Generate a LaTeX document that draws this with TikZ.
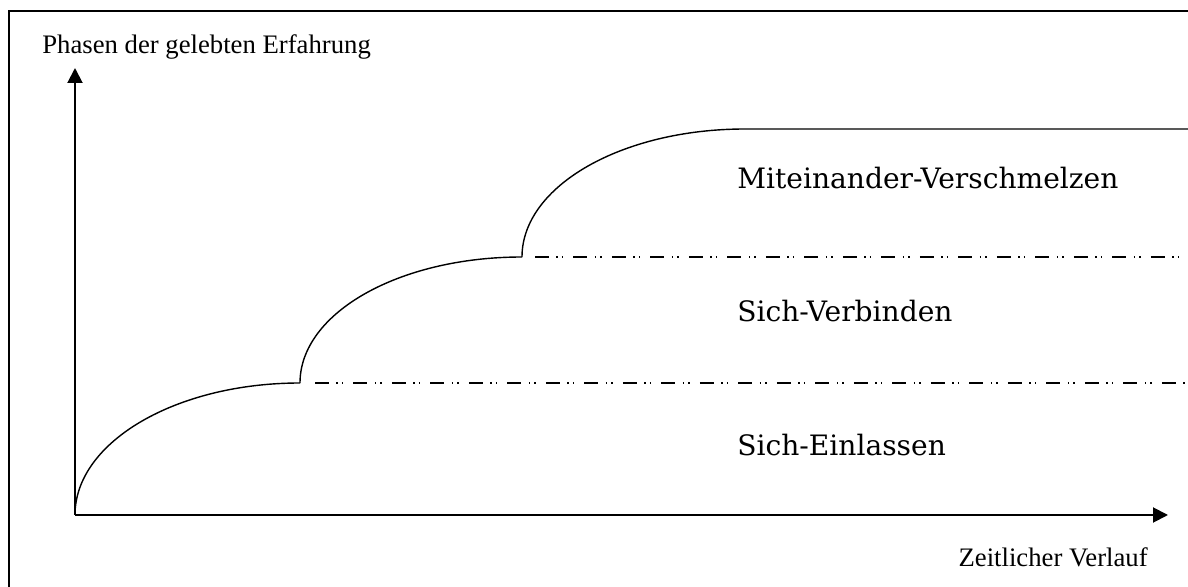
\documentclass[tikz,border=0pt]{standalone}
\usepackage{fontspec}
\setmainfont{Liberation Serif}
\newfontfamily\stagefont{DejaVu Serif}
\usetikzlibrary{arrows.meta, positioning}

\begin{document}
\begin{tikzpicture}[x=0.02cm, y=-0.02cm, >={Triangle[length=0.3cm, width=0.3cm]},
    axis/.style={line width=1.1pt},
    phase/.style={line width=0.8pt},
    border/.style={line width=0.8pt, dash pattern=on 0.28cm off 0.15cm on 0.03cm off 0.08cm on 0.03cm off 0.2cm},
    stage/.style={anchor=base west, inner sep=0pt, font={\stagefont\fontsize{16}{19}\selectfont}},
    axislabel/.style={inner sep=0pt, font={\fontsize{15.2}{18}\selectfont}}]
    \useasboundingbox (0,0) rectangle (1188,587);
    \draw[axis] (9,600) -- (9,11) -- (1200,11);

    % axes
    \coordinate (o) at (75,515);
    \coordinate (ytop) at (75,68);
    \coordinate (xend) at (1168,515);
    \draw[axis, ->] (o) -- (ytop);
    \draw[axis, ->] (o) -- (xend);
    \node[axislabel, anchor=base west] (ylabel) at (42,54) {Phasen der gelebten Erfahrung};
    \node[axislabel, anchor=base east] (xlabel) at (1148,567) {Zeitlicher Verlauf};

    % phases
    \coordinate (p1) at (300,383);
    \coordinate (p2) at (522,257);
    \coordinate (p3) at (745,129);
    \coordinate (d1) at (315,383);
    \coordinate (d2) at (535,257);
    \coordinate (r1) at (1188,383);
    \coordinate (r2) at (1188,257);
    \coordinate (r3) at (1188,129);
    \draw[phase] (o) .. controls +(0,-73) and +(-124,0) .. (p1);
    \draw[phase] (p1) .. controls +(0,-70) and +(-123,0) .. (p2);
    \draw[phase] (p2) .. controls +(0,-71) and +(-123,0) .. (p3) -- (r3);
    \draw[border] (d1) -- (r1);
    \draw[border] (d2) -- (r2);

    \node[stage] (fuse) at (737,189) {Miteinander-Verschmelzen};
    \node[stage] (bind) at (737,322) {Sich-Verbinden};
    \node[stage] (enter) at (737,456) {Sich-Einlassen};
\end{tikzpicture}
\end{document}
